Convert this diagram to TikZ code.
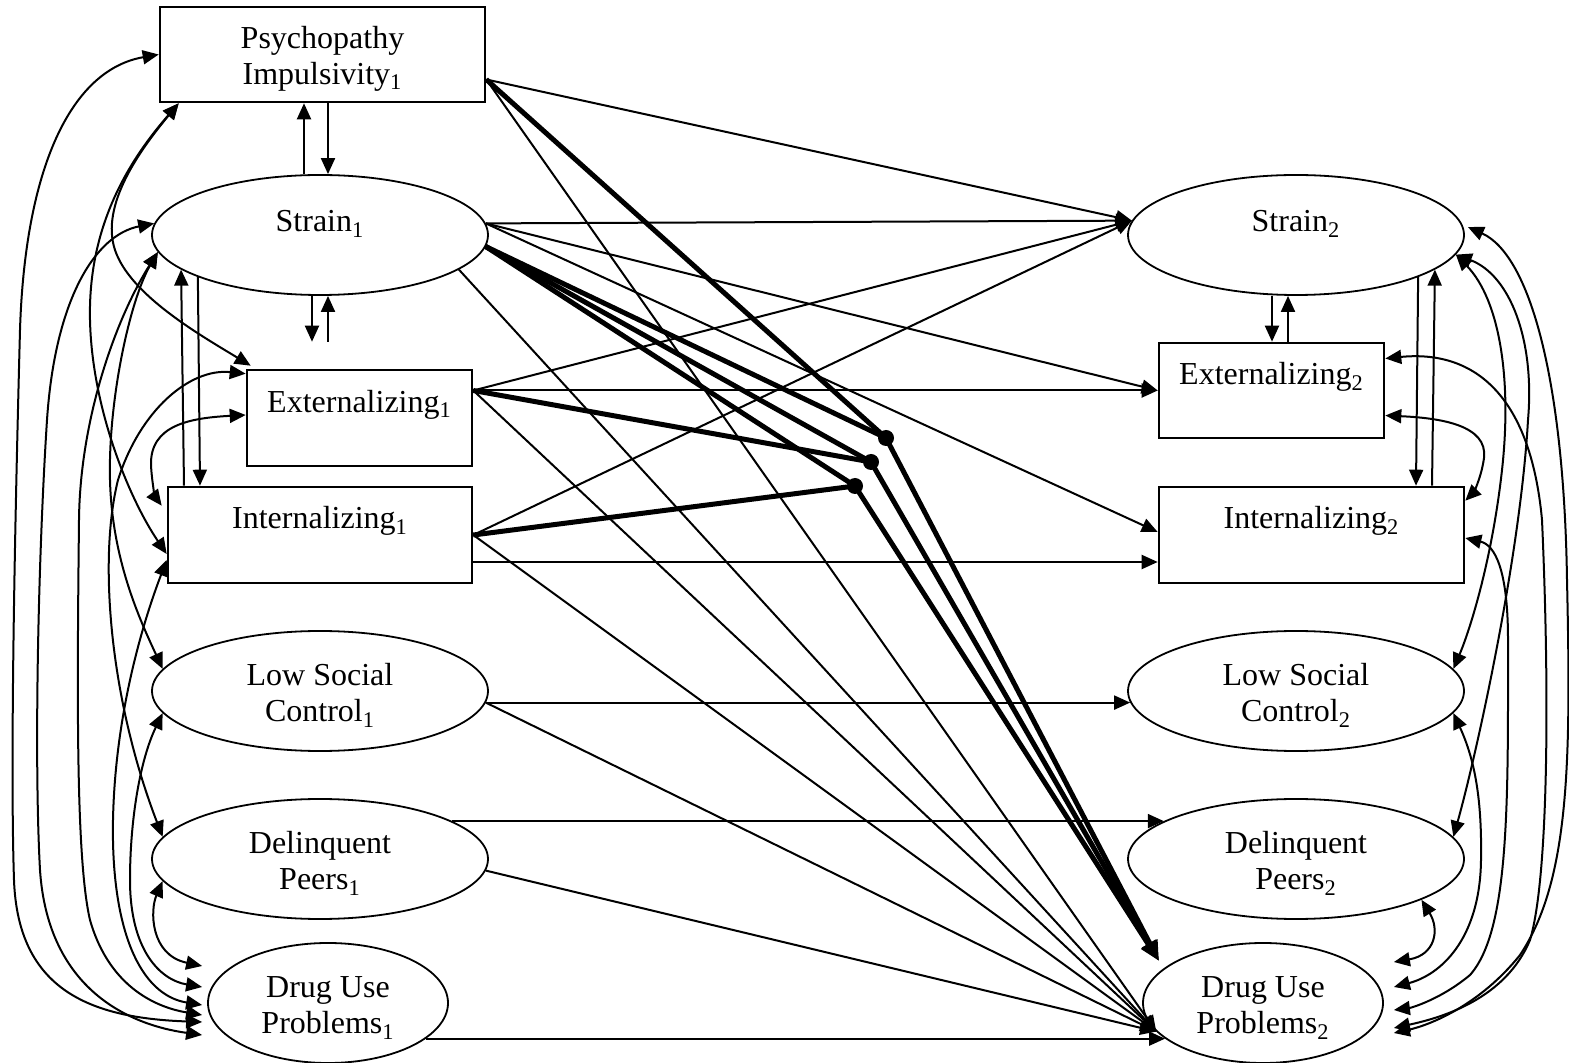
\documentclass[tikz,border=0pt]{standalone}
\usepackage{fontspec}
\setmainfont{Liberation Serif}
\usetikzlibrary{shapes.geometric,arrows.meta,calc}
\newcommand{\toprule}{\rule{0pt}{15.5pt}}

\begin{document}
\begin{tikzpicture}[
	x=0.5pt, y=-0.5pt,
	font=\fontsize{16}{18}\selectfont,
	>={Triangle[length=8pt,width=7pt]},
	block/.style={
		rectangle, draw=black, line width=1.3pt, inner sep=0pt
	},
	latent/.style={
		ellipse, draw=black, line width=0.9pt,
		minimum width=168pt, minimum height=60pt, inner sep=0pt
	},
	line/.style={draw, line width=1pt, ->},
	corr/.style={draw, line width=1pt, <->},
	inter/.style={draw, line width=2.5pt},
	dot/.style={circle, fill=black, inner sep=0pt, minimum size=8pt},
	]
	\useasboundingbox (0,0) rectangle (1569,1063);

	\node [block, minimum width=162.5pt, minimum height=47.5pt, align=center] (psych) at (322.5,54.5) {\toprule Psychopathy\\Impulsivity\textsubscript{1}};
	\node [latent, text height=11pt, text depth=14pt] (strain1) at (320,235) {Strain\textsubscript{1}};
	\node [block, minimum width=112.5pt, minimum height=48pt, text height=11pt, text depth=16.5pt] (ext1) at (359.5,418) {Externalizing\textsubscript{1}};
	\node [block, minimum width=152pt, minimum height=48pt, text height=11pt, text depth=17pt] (int1) at (320,535) {Internalizing\textsubscript{1}};
	\node [latent, align=center] (lsc1) at (320,691) {\toprule Low Social\\Control\textsubscript{1}};
	\node [latent, align=center] (dp1) at (320,859) {\toprule Delinquent\\Peers\textsubscript{1}};
	\node [latent, minimum width=120pt, align=center] (drug1) at (328,1003) {\toprule Drug Use\\Problems\textsubscript{1}};

	\node [latent, text height=11pt, text depth=14pt] (strain2) at (1296,235) {Strain\textsubscript{2}};
	\node [block, minimum width=112.5pt, minimum height=47.5pt, text height=11pt, text depth=16.5pt] (ext2) at (1271.5,390.5) {Externalizing\textsubscript{2}};
	\node [block, minimum width=152.5pt, minimum height=48pt, text height=11pt, text depth=17pt] (int2) at (1311.5,535) {Internalizing\textsubscript{2}};
	\node [latent, align=center] (lsc2) at (1296,691) {\toprule Low Social\\Control\textsubscript{2}};
	\node [latent, align=center] (dp2) at (1296,859) {\toprule Delinquent\\Peers\textsubscript{2}};
	\node [latent, minimum width=120pt, align=center] (drug2) at (1263,1003) {\toprule Drug Use\\Problems\textsubscript{2}};

	\coordinate (p1out) at ($(psych.east)+(0,25)$);
	\coordinate (e1out) at ($(ext1.east)+(0,-27.5)$);
	\coordinate (d2in) at ($(drug2.center)+(-104,-42)$);

	\path [line] ($(strain1.north)+(-16,0)$) -- ($(psych.south)+(-18.5,0)$);
	\path [line] ($(psych.south)+(5.5,0)$) -- ($(strain1.north)+(8,0)$);
	\path [line] ($(strain1.south)+(-8,0)$) -- ($(ext1.north)+(-47.5,-27)$);
	\path [line] ($(ext1.north)+(-31.5,-27)$) -- ($(strain1.south)+(8,0)$);
	\path [line] ($(int1.north)+(-136,0)$) -- (strain1.194.4);
	\path [line] (strain1.199.3) -- ($(int1.north)+(-120,0)$);
	\path [line] ($(strain2.south)+(-24,0)$) -- ($(ext2.north)+(0.5,0)$);
	\path [line] ($(ext2.north)+(16.5,0)$) -- ($(strain2.south)+(-8,0)$);
	\path [line] (strain2.-19.3) -- ($(int2.north)+(104.5,0)$);
	\path [line] ($(int2.north)+(120.5,0)$) -- (strain2.-14.4);

	\path [line] (p1out) -- (strain2.175);
	\path [line] (strain1.4) -- (strain2.175);
	\path [line] (e1out) -- (strain2.175);
	\path [line] (int1.east) -- (strain2.175);
	\path [line] (strain1.4) -- (ext2.west);
	\path [line] (e1out) -- (ext2.west);
	\path [line] (strain1.4) -- ($(int2.west)+(0,-3)$);
	\path [line] ($(int1.east)+(0,27)$) -- ($(int2.west)+(0,27)$);
	\path [line] (lsc1.-4) -- (lsc2.184);
	\path [line] (dp1.16) -- (dp2.164);
	\path [line] (drug1.-20) -- (drug2.200);
	\path [line] (p1out) -- (drug2.195);
	\path [line] (strain1.-14) -- (drug2.195);
	\path [line] (e1out) -- (drug2.195);
	\path [line] (int1.east) -- (drug2.195);
	\path [line] (lsc1.-4) -- (drug2.195);
	\path [line] (dp1.-4) -- (drug2.195);

	\path [corr] (psych.west) .. controls (70,70) and (25,170) .. (20,330) .. controls (15,520) and (10,760) .. (14,880) .. controls (18,990) and (90,1018) .. ($(drug1.west)+(-5,19)$);
	\path [corr] (strain1.176) .. controls (95,235) and (55,300) .. (47,420) .. controls (38,560) and (34,760) .. (40,870) .. controls (48,990) and (130,1025) .. ($(drug1.west)+(-5,32)$);
	\path [corr] ($(psych.south west)+(20,0)$) .. controls (125,165) and (88,230) .. (90,320) .. controls (92,410) and (130,500) .. ($(int1.west)+(0,19)$);
	\path [corr] ($(psych.south west)+(20,0)$) .. controls (140,150) and (100,205) .. (115,250) .. controls (130,295) and (200,335) .. ($(ext1.north west)+(5,-3)$);
	\path [corr] ($(ext1.north west)+(0,5)$) .. controls (190,368) and (140,410) .. (118,480) .. controls (98,560) and (110,700) .. (dp1.172);
	\path [corr] ($(ext1.west)+(0,-3)$) .. controls (190,418) and (150,425) .. (151,465) .. controls (152,485) and (156,498) .. ($(int1.north west)+(-5,20)$);
	\path [corr] (strain1.186) .. controls (130,300) and (108,400) .. (110,480) .. controls (112,560) and (140,620) .. (lsc1.172);
	\path [corr] (strain1.186) .. controls (115,320) and (80,420) .. (79,520) .. controls (77,700) and (76,860) .. (90,920) .. controls (110,990) and (160,1008) .. ($(drug1.west)+(-5,12)$);
	\path [corr] ($(int1.west)+(0,25)$) .. controls (140,630) and (115,720) .. (113,820) .. controls (111,930) and (140,995) .. ($(drug1.west)+(-5,2)$);
	\path [corr] (lsc1.188) .. controls (140,760) and (130,820) .. (130,880) .. controls (130,950) and (160,980) .. ($(drug1.west)+(-5,-16)$);
	\path [corr] (dp1.188) .. controls (150,910) and (150,955) .. ($(drug1.west)+(-5,-37)$);

	\path [corr] ($(strain2.east)+(3,-8)$) .. controls (1530,255) and (1564,380) .. (1567,580) .. controls (1571,760) and (1570,880) .. (1520,955) .. controls (1480,1005) and (1430,1025) .. ($(drug2.east)+(10,30)$);
	\path [corr] (strain2.-7) .. controls (1500,300) and (1512,380) .. (1502,470) .. controls (1492,560) and (1470,630) .. (lsc2.8);
	\path [corr] (strain2.-7) .. controls (1510,275) and (1535,340) .. (1528,420) .. controls (1520,560) and (1475,760) .. (dp2.8);
	\path [corr] ($(ext2.east)+(0,-32)$) .. controls (1470,350) and (1530,390) .. (1542,520) .. controls (1550,700) and (1548,880) .. (1530,940) .. controls (1505,1000) and (1440,1018) .. ($(drug2.east)+(10,25)$);
	\path [corr] ($(ext2.east)+(0,25)$) .. controls (1440,418) and (1488,425) .. (1484,458) .. controls (1481,480) and (1472,494) .. ($(int2.north east)+(0,15)$);
	\path [corr] ($(int2.east)+(0,3)$) .. controls (1495,545) and (1508,570) .. (1508,640) .. controls (1508,800) and (1510,930) .. (1470,975) .. controls (1440,1000) and (1410,1008) .. ($(drug2.east)+(10,7)$);
	\path [corr] (lsc2.-8) .. controls (1475,760) and (1482,800) .. (1481,860) .. controls (1480,940) and (1440,975) .. ($(drug2.east)+(10,-16)$);
	\path [corr] (dp2.-18) .. controls (1440,930) and (1435,955) .. ($(drug2.east)+(10,-41)$);

	\node [dot] (m1) at (886,438) {};
	\node [dot] (m2) at (871,462) {};
	\node [dot] (m3) at (855,486) {};
	\path [inter] (p1out) -- (m1.center);
	\path [inter] (strain1.-4) -- (m1.center);
	\path [inter] (strain1.-4) -- (m2.center);
	\path [inter] (strain1.-4) -- (m3.center);
	\path [inter] (e1out) -- (m2.center);
	\path [inter] (int1.east) -- (m3.center);
	\path [inter, -{Triangle[length=10pt,width=8pt]}] (m1.center) -- (d2in);
	\path [inter, -{Triangle[length=10pt,width=8pt]}] (m2.center) -- (d2in);
	\path [inter, -{Triangle[length=10pt,width=8pt]}] (m3.center) -- (d2in);
\end{tikzpicture}
\end{document}
